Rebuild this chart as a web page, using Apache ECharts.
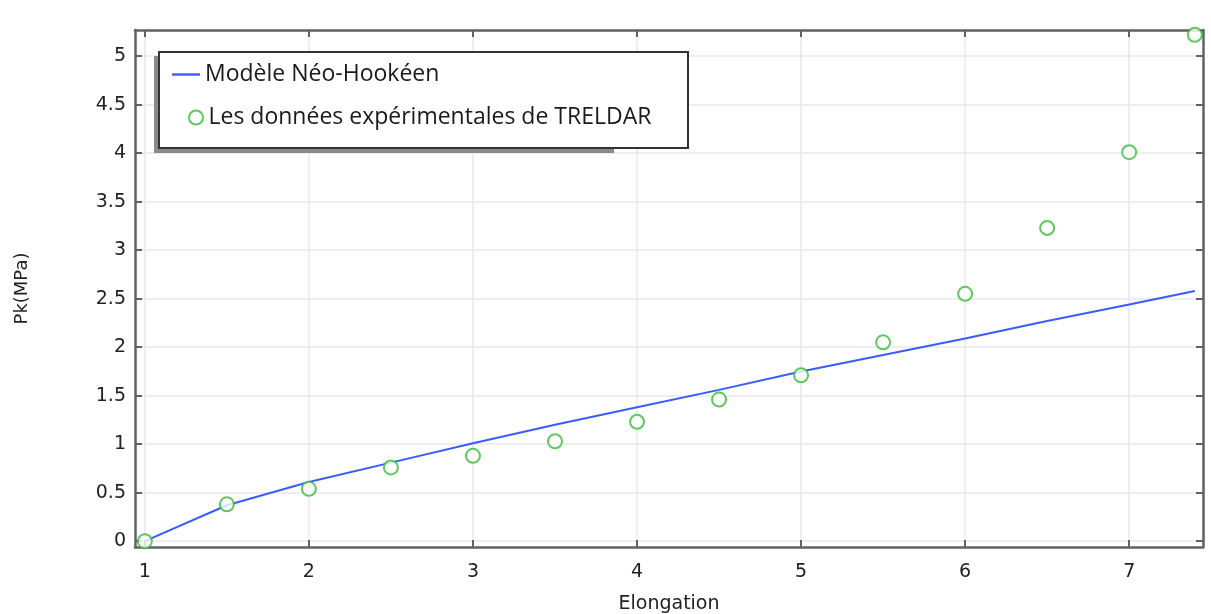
<html>
    <head>
        <meta charset="utf-8">
        <style>
            html, body { margin: 0; padding: 0; background: #fff; }
            #main { width: 1211px; height: 614px; }
        </style>
    </head>
    <body>
        <div id="main"></div>
        <script src="https://cdn.jsdelivr.net/npm/echarts@6/dist/echarts.min.js"></script>
        <script>
            // Elongation values
            var modelX = [1, 1.5, 2, 2.5, 3, 3.5, 4, 4.5, 5, 5.5, 6, 6.5, 7, 7.4];
            var modelY = [0, 0.37, 0.61, 0.81, 1.01, 1.2, 1.38, 1.56, 1.75, 1.92, 2.09, 2.27, 2.44, 2.58];
            var expX = [1, 1.5, 2, 2.5, 3, 3.5, 4, 4.5, 5, 5.5, 6, 6.5, 7, 7.4];
            var expY = [0, 0.38, 0.54, 0.76, 0.88, 1.03, 1.23, 1.46, 1.71, 2.05, 2.55, 3.23, 4.01, 5.22];
            var xTicks = [1, 2, 3, 4, 5, 6, 7];
            var yTicks = [0, 0.5, 1, 1.5, 2, 2.5, 3, 3.5, 4, 4.5, 5];

            var lineName = 'Modèle Néo-Hookéen';
            var pointName = 'Les données expérimentales de TRELDAR';

            var chart = echarts.init(document.getElementById('main'));

            var axisColor = '#626262';
            var gridColor = '#e8e8e8';
            var labelColor = '#222';
            var blue = '#3a5cff';
            var green = '#36bb36';

            function zip(xs, ys) {
                return xs.map(function (x, i) { return [x, ys[i]]; });
            }

            var xRange = { min: 0.94, max: 7.45 };
            var yRange = { min: -0.06, max: 5.27 };

            var legendText = {
                fontFamily: 'Open Sans',
                fontSize: 23,
                color: '#1a1a1a'
            };

            chart.setOption({
                backgroundColor: '#fff',
                animation: false,
                grid: {
                    left: 135,
                    right: 8,
                    top: 30,
                    bottom: 67,
                    containLabel: false,
                    outerBoundsMode: 'none'
                },
                graphic: [{
                    type: 'rect',
                    left: 154,
                    top: 56,
                    shape: { width: 460, height: 97 },
                    style: { fill: '#8a8a8a' },
                    z: 10
                }, {
                    type: 'rect',
                    left: 158,
                    top: 51,
                    shape: { width: 529, height: 96 },
                    style: { fill: '#fff', stroke: '#333', lineWidth: 2 },
                    z: 11
                }],
                legend: [{
                    orient: 'vertical',
                    left: 172,
                    top: 63,
                    padding: 0,
                    z: 12,
                    itemWidth: 28,
                    itemHeight: 14,
                    itemGap: 6,
                    textStyle: legendText,
                    data: [
                        { name: lineName, icon: 'path://M0,6 L28,6 L28,8.4 L0,8.4 Z' }
                    ]
                }, {
                    orient: 'vertical',
                    left: 188,
                    top: 106,
                    padding: 0,
                    z: 12,
                    itemWidth: 15,
                    itemHeight: 14,
                    textStyle: legendText,
                    data: [
                        { name: pointName }
                    ]
                }],
                xAxis: [{
                    type: 'value',
                    min: xRange.min,
                    max: xRange.max,
                    name: 'Elongation',
                    nameLocation: 'middle',
                    nameGap: 48,
                    nameTextStyle: { fontFamily: 'DejaVu Sans', fontSize: 19, color: labelColor },
                    axisLine: { show: true, onZero: false, lineStyle: { color: axisColor, width: 2.5 } },
                    axisTick: { show: true, inside: true, length: 7, customValues: xTicks, lineStyle: { color: axisColor, width: 2 } },
                    axisLabel: { customValues: xTicks, margin: 16, fontFamily: 'DejaVu Sans', fontSize: 19, color: labelColor },
                    splitLine: { show: true, lineStyle: { color: gridColor, width: 1.5 } }
                }, {
                    type: 'value',
                    position: 'top',
                    min: xRange.min,
                    max: xRange.max,
                    axisLine: { show: true, onZero: false, lineStyle: { color: axisColor, width: 2.5 } },
                    axisTick: { show: true, inside: true, length: 7, customValues: xTicks, lineStyle: { color: axisColor, width: 2 } },
                    axisLabel: { show: false },
                    splitLine: { show: false }
                }],
                yAxis: [{
                    type: 'value',
                    min: yRange.min,
                    max: yRange.max,
                    name: 'Pk(MPa)',
                    nameLocation: 'middle',
                    nameRotate: 90,
                    nameGap: 104,
                    nameTextStyle: { fontFamily: 'DejaVu Sans', fontSize: 18, color: labelColor },
                    axisLine: { show: true, onZero: false, lineStyle: { color: axisColor, width: 2.5 } },
                    axisTick: { show: true, inside: true, length: 7, customValues: yTicks, lineStyle: { color: axisColor, width: 2 } },
                    axisLabel: { customValues: yTicks, margin: 9, fontFamily: 'DejaVu Sans', fontSize: 19, color: labelColor },
                    splitLine: { show: true, lineStyle: { color: gridColor, width: 1.5 } }
                }, {
                    type: 'value',
                    position: 'right',
                    min: yRange.min,
                    max: yRange.max,
                    axisLine: { show: true, onZero: false, lineStyle: { color: axisColor, width: 2.5 } },
                    axisTick: { show: true, inside: true, length: 7, customValues: yTicks, lineStyle: { color: axisColor, width: 2 } },
                    axisLabel: { show: false },
                    splitLine: { show: false }
                }],
                series: [{
                    name: lineName,
                    type: 'line',
                    data: zip(modelX, modelY),
                    showSymbol: false,
                    symbol: 'none',
                    lineStyle: { color: blue, width: 2 },
                    itemStyle: { color: blue },
                    z: 3
                }, {
                    name: pointName,
                    type: 'scatter',
                    data: zip(expX, expY),
                    symbol: 'emptyCircle',
                    symbolSize: 14,
                    itemStyle: { color: green, borderWidth: 2.8 },
                    z: 4
                }]
            });

            window.onresize = chart.resize;
        </script>
    </body>
</html>
